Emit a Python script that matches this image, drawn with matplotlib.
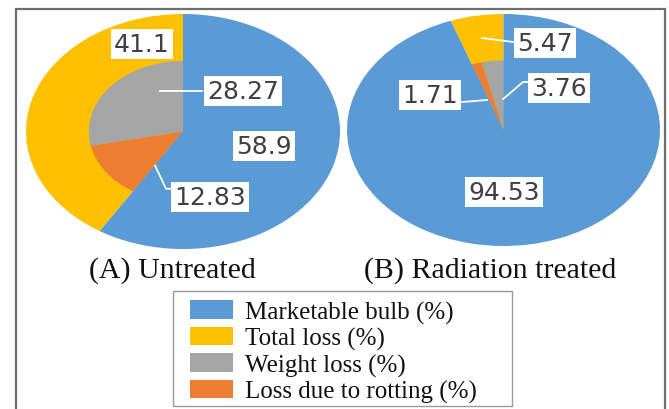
import matplotlib
matplotlib.use("Agg")
import matplotlib.pyplot as plt
from matplotlib.patches import Patch, Rectangle

# ---- data ----
categories = ["Marketable bulb (%)", "Total loss (%)", "Weight loss (%)", "Loss due to rotting (%)"]
colors = {"Marketable bulb (%)": "#5B9BD5", "Total loss (%)": "#FFC000",
          "Weight loss (%)": "#A5A5A5", "Loss due to rotting (%)": "#ED7D31"}

untreated_marketable = 58.9
untreated_total_loss = 41.1
untreated_weight_loss = 28.27
untreated_rotting = 12.83

treated_marketable = 94.53
treated_total_loss = 5.47
treated_weight_loss = 3.76
treated_rotting = 1.71

panel_titles = ["(A) Untreated", "(B) Radiation treated"]

W, H = 669, 410
fig = plt.figure(figsize=(W / 100, H / 100), dpi=100)
fig.patch.set_facecolor("white")


def px_axes(x0, y0, x1, y1):
    """Axes placed by pixel box (top-left origin)."""
    return fig.add_axes([x0 / W, 1 - y1 / H, (x1 - x0) / W, (y1 - y0) / H])


label_kw = dict(fontsize=18, color="#404040", family="DejaVu Sans",
                ha="center", va="center",
                bbox=dict(boxstyle="square,pad=0.12", fc="white", ec="none"))
line_kw = dict(color="white", lw=1.3)


def nested_pie(ax, marketable, total_loss, weight_loss, rotting):
    wp = dict(linewidth=0)
    ax.pie([total_loss, marketable], radius=1.0, startangle=90, counterclock=True,
           colors=[colors["Total loss (%)"], colors["Marketable bulb (%)"]],
           wedgeprops=wp)
    ax.pie([weight_loss, rotting, marketable], radius=0.6, startangle=90, counterclock=True,
           colors=[colors["Weight loss (%)"], colors["Loss due to rotting (%)"],
                   colors["Marketable bulb (%)"]],
           wedgeprops=wp)
    ax.set_aspect("auto")
    ax.set_xlim(-1, 1)
    ax.set_ylim(-1, 1)
    ax.axis("off")


# Untreated
axA = px_axes(26, 15, 340, 250)
nested_pie(axA, untreated_marketable, untreated_total_loss,
           untreated_weight_loss, untreated_rotting)
axA.text(-0.261, 0.744, f"{untreated_total_loss:g}", **label_kw)
axA.plot([-0.146, 0.12], [0.342, 0.342], **line_kw)
axA.text(0.382, 0.342, f"{untreated_weight_loss:g}", **label_kw)
axA.text(0.516, -0.120, f"{untreated_marketable:g}", **label_kw)
axA.plot([-0.178, -0.108, 0.0], [-0.291, -0.487, -0.487], **line_kw)
axA.text(0.172, -0.556, f"{untreated_rotting:g}", **label_kw)

# Radiation treated
axB = px_axes(347, 15, 660, 247)
nested_pie(axB, treated_marketable, treated_total_loss,
           treated_weight_loss, treated_rotting)
axB.plot([-0.137, 0.061], [0.793, 0.759], **line_kw)
axB.text(0.265, 0.75, f"{treated_total_loss:g}", **label_kw)
axB.plot([-0.003, 0.125, 0.17], [0.267, 0.414, 0.414], **line_kw)
axB.text(0.355, 0.362, f"{treated_weight_loss:g}", **label_kw)
axB.plot([-0.105, -0.265], [0.259, 0.241], **line_kw)
axB.text(-0.470, 0.302, f"{treated_rotting:g}", **label_kw)
axB.text(0.003, -0.534, f"{treated_marketable:g}", **label_kw)

# Panel captions
serif = ["Liberation Serif", "DejaVu Serif"]
fig.text(172.5 / W, 1 - 271 / H, panel_titles[0], family=serif, fontsize=21.5,
         ha="center", va="center", color="#111111")
fig.text(490 / W, 1 - 271 / H, panel_titles[1], family=serif, fontsize=21.5,
         ha="center", va="center", color="#111111")

# Legend (frame drawn separately so its box can be wider than the entries)
handles = [Patch(facecolor=colors[c], edgecolor="none") for c in categories]
leg = fig.legend(handles, categories, loc="upper left",
                 bbox_to_anchor=(180 / W, 1 - 291 / H), bbox_transform=fig.transFigure,
                 prop={"family": serif, "size": 18}, frameon=False,
                 handlelength=1.7, handleheight=0.78, handletextpad=0.5,
                 labelspacing=0.12, borderpad=0.4, borderaxespad=0)
for t in leg.get_texts():
    t.set_color("#111111")
fig.add_artist(Rectangle((173 / W, 1 - 407 / H), (512 - 173) / W, (407 - 292) / H,
                         transform=fig.transFigure, fill=False,
                         edgecolor="#9a9a9a", linewidth=1.0))

# Outer frame (open at the bottom)
fig.add_artist(Rectangle((16 / W, -0.1), (665 - 16) / W, 1.1 - 10 / H,
                         transform=fig.transFigure, fill=False,
                         edgecolor="#6e6e6e", linewidth=1.6))

fig.savefig("out.png", dpi=100, facecolor="white")
